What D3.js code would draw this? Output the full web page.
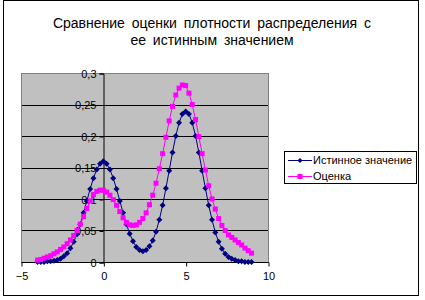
<!DOCTYPE html>
<html>
<head>
<meta charset="utf-8">
<script src="https://d3js.org/d3.v7.min.js"></script>
<style>
  body { margin: 0; background: #fff; }
  text { font-family: "Liberation Sans", Arial, sans-serif; }
</style>
</head>
<body>
<div id="my_dataviz"></div>
<script>
// x values of the points
var xValues = [-4, -3.8, -3.6, -3.4, -3.2, -3, -2.8, -2.6, -2.4, -2.2,
  -2, -1.8, -1.6, -1.4, -1.2, -1, -0.8, -0.6, -0.4, -0.2,
  0, 0.2, 0.4, 0.6, 0.8, 1, 1.2, 1.4, 1.6, 1.8,
  2, 2.2, 2.4, 2.6, 2.8, 3, 3.2, 3.4, 3.6, 3.8,
  4, 4.2, 4.4, 4.6, 4.8, 5, 5.2, 5.4, 5.6, 5.8,
  6, 6.2, 6.4, 6.6, 6.8, 7, 7.2, 7.4, 7.6, 7.8,
  8, 8.2, 8.4, 8.6, 8.8, 9];

// "Истинное значение"
var trueValues = [0.000, 0.000, 0.000, 0.001, 0.001, 0.002, 0.003, 0.005, 0.009, 0.014,
  0.022, 0.032, 0.044, 0.060, 0.078, 0.097, 0.116, 0.133, 0.147, 0.156,
  0.160, 0.156, 0.147, 0.133, 0.116, 0.097, 0.078, 0.060, 0.045, 0.033,
  0.024, 0.019, 0.017, 0.019, 0.025, 0.034, 0.048, 0.067, 0.090, 0.117,
  0.145, 0.174, 0.200, 0.221, 0.235, 0.239, 0.235, 0.221, 0.200, 0.174,
  0.145, 0.117, 0.090, 0.067, 0.047, 0.032, 0.021, 0.013, 0.008, 0.005,
  0.003, 0.001, 0.001, 0.000, 0.000, 0.000];

// "Оценка"
var estValues = [0.003, 0.004, 0.006, 0.008, 0.010, 0.013, 0.016, 0.020, 0.024, 0.029,
  0.035, 0.042, 0.050, 0.060, 0.072, 0.085, 0.097, 0.107, 0.112, 0.114,
  0.114, 0.111, 0.106, 0.099, 0.090, 0.080, 0.070, 0.063, 0.059, 0.058,
  0.059, 0.063, 0.069, 0.078, 0.091, 0.106, 0.125, 0.148, 0.172, 0.198,
  0.224, 0.247, 0.265, 0.276, 0.281, 0.280, 0.268, 0.250, 0.226, 0.199,
  0.172, 0.146, 0.121, 0.100, 0.084, 0.069, 0.058, 0.050, 0.043, 0.039,
  0.035, 0.031, 0.027, 0.022, 0.018, 0.014];

var seriesNames = ["Истинное значение", "Оценка"];
var seriesColors = ["#000080", "#ff00ff"];
var xTicks = [-5, 0, 5, 10];
var yTicks = [0, 0.05, 0.1, 0.15, 0.2, 0.25, 0.3];
var titleLines = ["Сравнение оценки плотности распределения с", "ее истинным значением"];

// set the dimensions of the page and the plot area
var W = 425, H = 300;
var plot = {left: 21, top: 73, right: 268, bottom: 262};

var svg = d3.select("#my_dataviz")
  .append("svg")
    .attr("width", W)
    .attr("height", H);

// chart frame
svg.append("rect")
  .attr("x", 3.5).attr("y", 0.5)
  .attr("width", 415).attr("height", 295)
  .style("fill", "#fff")
  .style("stroke", "#000");

// title
svg.append("g").selectAll("text")
  .data(titleLines)
  .enter()
  .append("text")
    .attr("x", 212)
    .attr("y", function(d, i) { return 28 + i * 17; })
    .attr("text-anchor", "middle")
    .style("font-size", "14px")
    .style("word-spacing", "3px")
    .text(function(d) { return d; });

// scales
var x = d3.scaleLinear()
  .domain([-5, 10])
  .range([plot.left, plot.right]);
var y = d3.scaleLinear()
  .domain([0, 0.3])
  .range([plot.bottom, plot.top]);

// grey plot area
svg.append("rect")
  .attr("x", plot.left + 0.5).attr("y", plot.top + 0.5)
  .attr("width", plot.right - plot.left).attr("height", plot.bottom - plot.top)
  .style("fill", "#c0c0c0")
  .style("stroke", "#808080");

// horizontal gridlines
svg.append("g")
  .selectAll("line")
  .data(yTicks.filter(function(d) { return d > 0 && d < 0.3; }))
  .enter()
  .append("line")
    .attr("x1", plot.left + 1).attr("x2", plot.right)
    .attr("y1", function(d) { return Math.round(y(d)) + 0.5; })
    .attr("y2", function(d) { return Math.round(y(d)) + 0.5; })
    .style("stroke", "#000");

var fmt = function(d) { return String(d).replace(".", ","); };

// Y axis at x = 0
var yAxis = svg.append("g")
  .attr("transform", "translate(" + (Math.round(x(0)) + 0.5) + ",0.5)")
  .call(d3.axisLeft(y).tickValues(yTicks).tickSize(4).tickPadding(3).tickFormat(fmt));

// X axis at y = 0
var xAxis = svg.append("g")
  .attr("transform", "translate(0.5," + (plot.bottom + 0.5) + ")")
  .call(d3.axisBottom(x).tickValues(xTicks).tickSize(4).tickPadding(6).tickFormat(d3.format("d")));

[yAxis, xAxis].forEach(function(a) {
  a.select(".domain").style("stroke", "#000");
  a.selectAll(".tick line").style("stroke", "#000");
  a.selectAll("text")
    .style("font-family", "'Liberation Sans', Arial, sans-serif")
    .style("font-size", "11px")
    .style("fill", "#000");
});
xAxis.select(".domain").attr("d", "M" + plot.left + ",0H" + plot.right);

// series
var allData = [trueValues, estValues].map(function(vals) {
  return vals.map(function(v, i) { return {x: xValues[i], y: v}; });
});

var line = d3.line()
  .x(function(d) { return x(d.x); })
  .y(function(d) { return y(d.y); });

var diamond = "M0,-3L3,0L0,3L-3,0Z";

allData.forEach(function(data, k) {
  var g = svg.append("g");
  g.append("path")
    .datum(data)
    .attr("d", line)
    .style("fill", "none")
    .style("stroke", seriesColors[k])
    .style("stroke-width", 1);
  if (k === 0) {
    g.selectAll("path.m")
      .data(data)
      .enter()
      .append("path")
        .attr("class", "m")
        .attr("transform", function(d) { return "translate(" + x(d.x) + "," + y(d.y) + ")"; })
        .attr("d", diamond)
        .style("fill", seriesColors[k]);
  } else {
    g.selectAll("rect")
      .data(data)
      .enter()
      .append("rect")
        .attr("x", function(d) { return x(d.x) - 2.5; })
        .attr("y", function(d) { return y(d.y) - 2.5; })
        .attr("width", 5).attr("height", 5)
        .style("fill", seriesColors[k]);
  }
});

// legend
var legend = svg.append("g").attr("transform", "translate(284,151)");
legend.append("rect")
  .attr("x", 0.5).attr("y", 0.5)
  .attr("width", 132).attr("height", 32)
  .style("fill", "#fff")
  .style("stroke", "#000");

seriesNames.forEach(function(name, k) {
  var row = legend.append("g").attr("transform", "translate(0," + (9 + k * 16) + ")");
  row.append("line")
    .attr("x1", 4).attr("x2", 28)
    .attr("y1", 0.5).attr("y2", 0.5)
    .style("stroke", seriesColors[k]);
  if (k === 0) {
    row.append("path")
      .attr("transform", "translate(16,0.5)")
      .attr("d", "M0,-2.5L2.5,0L0,2.5L-2.5,0Z")
      .style("fill", seriesColors[k]);
  } else {
    row.append("rect")
      .attr("x", 13.5).attr("y", -2)
      .attr("width", 5).attr("height", 5)
      .style("fill", seriesColors[k]);
  }
  row.append("text")
    .attr("x", 29)
    .attr("y", 4)
    .style("font-size", "11px")
    .text(name);
});
</script>
</body>
</html>
